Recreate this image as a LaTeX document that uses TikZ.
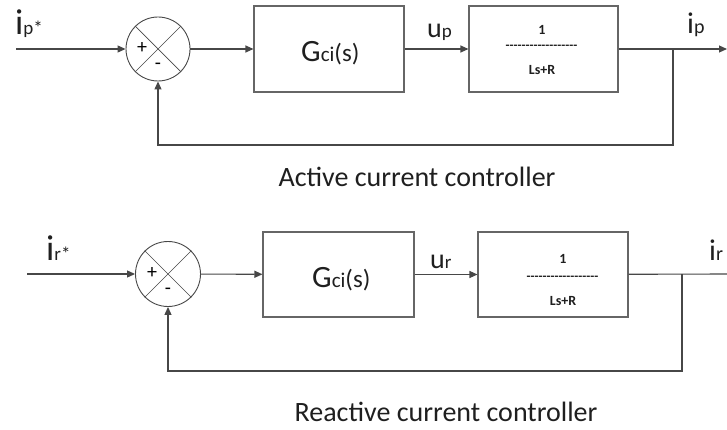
\documentclass[tikz,border=0pt]{standalone}
\usepackage{fontspec}
\setmainfont{Carlito}
\usetikzlibrary{arrows.meta}
\newcommand{\fs}[1]{\fontsize{#1}{#1}\selectfont}
\newcommand{\dashrow}{{-}{-}{-}{-}{-}{-}{-}{-}{-}{-}{-}{-}{-}{-}{-}{-}{-}{-}}
\begin{document}
\begin{tikzpicture}[x=1pt,y=-1pt,
  ln/.style={draw=black!72, line width=1.1pt},
  arr/.style={ln,-{Triangle[length=8pt,width=7pt]}},
  blk/.style={draw=black!60, line width=1.1pt, minimum width=150pt, minimum height=86pt, inner sep=0pt},
  sumc/.style={draw=black!72, line width=0.9pt, circle, minimum size=64pt, inner sep=0pt},
  lbl/.style={inner sep=0pt, anchor=base west, text=black!88},
  fr/.style={inner sep=0pt, font=\fs{14}\bfseries, text=black!88}
]
\useasboundingbox (0,0) rectangle (727,430);

% ---------- top: active current controller ----------
\node[sumc] (s1) at (158,49) {};
\draw[ln, line width=0.7pt] (s1.45) -- (s1.225) (s1.135) -- (s1.315);
\node (plus1) at (142,48) {\fs{20}+};
\node (minus1) at (158,66) {\fs{20}-};
\node[blk] (g1) at (329,49) {};
\node[lbl] (g1t) at (301,62) {\fs{31}G\fs{21}ci\fs{25}(s)};
\node[blk, minimum width=149pt] (p1) at (543.5,49) {};
\node[fr] (n1) at (542,30) {1};
\node[fr, font=\fs{13}\bfseries] (l1) at (541.5,47) {\dashrow};
\node[fr] (d1t) at (542,70) {Ls+R};
\coordinate (in1) at (16,49);
\coordinate (out1) at (727,49);
\coordinate (b1) at (673,49);
\coordinate (c1) at (673,145);
\coordinate (d1) at (158,145);
\draw[arr] (in1) -- (s1);
\draw[arr] (s1) -- (g1);
\draw[arr] (g1) -- (p1);
\draw[arr] (p1) -- (out1);
\draw[arr] (b1) -- (c1) -- (d1) -- (s1);
\node[lbl] (lin1) at (15,35) {\fs{36}i\fs{19}p*};
\node[lbl] (lu1) at (427,38) {\fs{28}u\fs{19}p};
\node[lbl] (lout1) at (687,34) {\fs{30}i\fs{20}p};
\node[lbl, anchor=base] (cap1) at (417,187) {\fs{28}Active current controller};

% ---------- bottom: reactive current controller ----------
\node[sumc, minimum size=65pt] (s2) at (168,274) {};
\draw[ln, line width=0.7pt] (s2.45) -- (s2.225) (s2.135) -- (s2.315);
\node (plus2) at (152,273) {\fs{20}+};
\node (minus2) at (168,291) {\fs{20}-};
\node[blk, minimum width=151pt, minimum height=85pt] (g2) at (338.5,274.5) {};
\node[lbl] (g2t) at (312,287) {\fs{31}G\fs{21}ci\fs{25}(s)};
\node[blk, minimum height=85pt] (p2) at (553,274.5) {};
\node[fr] (n2) at (563,259) {1};
\node[fr, font=\fs{13}\bfseries] (l2) at (562.5,278) {\dashrow};
\node[fr] (d2t) at (563,301) {Ls+R};
\coordinate (in2) at (27,274);
\coordinate (out2) at (727,274);
\coordinate (b2) at (682,274);
\coordinate (c2) at (682,371);
\coordinate (d2) at (168,371);
\draw[arr] (in2) -- (s2);
\draw[arr] (s2) -- (g2);
\draw[arr] (g2) -- (p2);
\draw[ln] (p2) -- (out2);
\draw[arr] (b2) -- (c2) -- (d2) -- (s2);
\node[lbl] (lin2) at (46,260) {\fs{36}i\fs{19}r*};
\node[lbl] (lu2) at (430,268) {\fs{28}u\fs{19}r};
\node[lbl] (lout2) at (709,260) {\fs{30}i\fs{20}r};
\node[lbl, anchor=base] (cap2) at (446,421) {\fs{28}Reactive current controller};
\end{tikzpicture}
\end{document}
